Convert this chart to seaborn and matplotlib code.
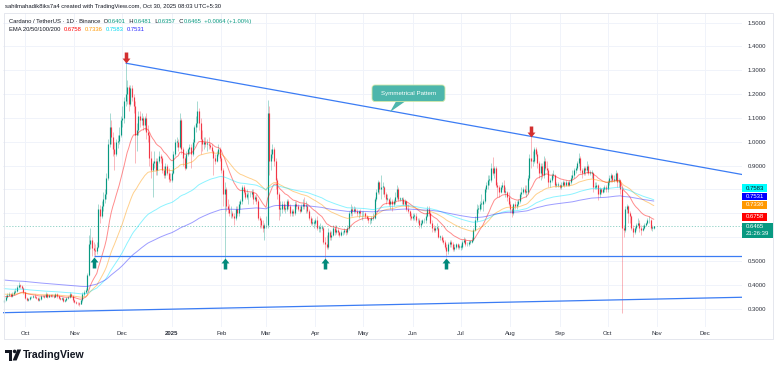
import matplotlib
matplotlib.use("Agg")
import matplotlib.pyplot as plt
import matplotlib.dates as mdates
from matplotlib.path import Path
from matplotlib.patches import Rectangle, FancyBboxPatch, Polygon, Circle
import numpy as np
import pandas as pd
import seaborn as sns

# ---- ADA/USDT daily candles (Sep 18 2024 .. Oct 30 2025) ----
start_date = "2024-09-18"
first_open = 0.330

close = [
    # Sep 2024
    0.335, 0.350, 0.358, 0.362, 0.355, 0.362, 0.372, 0.375, 0.390, 0.398, 0.395, 0.388, 0.368,
    # Oct 2024
    0.345, 0.338, 0.340, 0.348, 0.350, 0.352, 0.348, 0.345, 0.338, 0.342, 0.352, 0.354, 0.350, 0.362, 0.350, 0.358,
    0.352, 0.354, 0.350, 0.360, 0.352, 0.346, 0.340, 0.346, 0.332, 0.338, 0.345, 0.350, 0.362, 0.352, 0.335,
    # Nov 2024
    0.330, 0.325, 0.322, 0.320, 0.335, 0.362, 0.372, 0.380, 0.440, 0.570, 0.590, 0.555, 0.545, 0.540, 0.560,
    0.720, 0.690, 0.730, 0.760, 0.780, 0.850, 0.990, 1.060, 1.020, 0.970, 0.950, 1.000, 1.005, 1.030, 1.090,
    # Dec 2024
    1.100, 1.170, 1.200, 1.230, 1.160, 1.225, 1.190, 1.150, 1.030, 1.050, 1.110, 1.090, 1.100, 1.070, 1.100, 1.040,
    1.030, 0.930, 0.880, 0.910, 0.920, 0.880, 0.920, 0.940, 0.930, 0.880, 0.860, 0.900, 0.870, 0.845, 0.840,
    # Jan 2025
    0.870, 0.950, 1.000, 1.000, 0.980, 1.090, 0.970, 0.930, 0.890, 0.950, 0.970, 0.980, 0.950, 1.000, 1.060, 1.080,
    1.130, 1.080, 1.010, 0.990, 1.000, 0.990, 0.990, 0.985, 0.980, 0.960, 0.930, 0.920, 0.950, 0.970, 0.930,
    # Feb 2025
    0.880, 0.780, 0.800, 0.730, 0.720, 0.700, 0.700, 0.690, 0.680, 0.720, 0.700, 0.740, 0.750, 0.810,
    0.790, 0.770, 0.780, 0.780, 0.780, 0.790, 0.760, 0.770, 0.750, 0.680, 0.670, 0.650, 0.640, 0.650,
    # Mar 2025
    0.650, 1.120, 0.920, 0.950, 0.970, 0.920, 0.840, 0.780, 0.720, 0.720, 0.740, 0.720, 0.720, 0.750, 0.730, 0.700,
    0.710, 0.700, 0.740, 0.730, 0.720, 0.710, 0.730, 0.740, 0.730, 0.730, 0.710, 0.680, 0.660, 0.660, 0.660,
    # Apr 2025
    0.670, 0.640, 0.640, 0.640, 0.640, 0.580, 0.570, 0.560, 0.620, 0.600, 0.610, 0.640, 0.620, 0.630, 0.620,
    0.610, 0.620, 0.620, 0.630, 0.620, 0.640, 0.700, 0.720, 0.710, 0.720, 0.710, 0.700, 0.710, 0.700, 0.700,
    # May 2025
    0.700, 0.690, 0.680, 0.670, 0.670, 0.680, 0.680, 0.760, 0.790, 0.830, 0.800, 0.810, 0.810, 0.780, 0.760, 0.760,
    0.740, 0.750, 0.740, 0.750, 0.770, 0.800, 0.760, 0.760, 0.760, 0.740, 0.750, 0.720, 0.710, 0.690, 0.680,
    # Jun 2025
    0.690, 0.690, 0.670, 0.670, 0.650, 0.660, 0.670, 0.670, 0.690, 0.720, 0.700, 0.660, 0.640, 0.630, 0.640,
    0.640, 0.600, 0.600, 0.590, 0.580, 0.560, 0.540, 0.570, 0.580, 0.570, 0.550, 0.560, 0.570, 0.560, 0.560,
    # Jul 2025
    0.560, 0.580, 0.590, 0.570, 0.570, 0.580, 0.580, 0.590, 0.630, 0.670, 0.720, 0.720, 0.740, 0.740, 0.750, 0.800,
    0.820, 0.840, 0.840, 0.890, 0.870, 0.890, 0.820, 0.810, 0.790, 0.810, 0.820, 0.790, 0.790, 0.770, 0.740,
    # Aug 2025
    0.720, 0.700, 0.740, 0.730, 0.740, 0.750, 0.780, 0.790, 0.800, 0.790, 0.790, 0.850, 0.930, 0.920, 0.920, 0.970,
    0.950, 0.910, 0.870, 0.900, 0.860, 0.920, 0.890, 0.880, 0.830, 0.840, 0.860, 0.860, 0.820, 0.820, 0.820,
    # Sep 2025
    0.810, 0.820, 0.830, 0.820, 0.830, 0.820, 0.830, 0.850, 0.860, 0.880, 0.890, 0.910, 0.930, 0.880, 0.870,
    0.890, 0.880, 0.900, 0.870, 0.870, 0.870, 0.810, 0.810, 0.820, 0.780, 0.800, 0.790, 0.800, 0.810, 0.800,
    # Oct 2025
    0.830, 0.850, 0.860, 0.840, 0.840, 0.870, 0.830, 0.840, 0.800, 0.640, 0.630, 0.720, 0.730, 0.700, 0.690,
    0.640, 0.620, 0.640, 0.650, 0.660, 0.640, 0.630, 0.640, 0.650, 0.660, 0.670, 0.670, 0.640, 0.6401, 0.6465,
]

high = [
    0.342, 0.356, 0.366, 0.368, 0.366, 0.372, 0.378, 0.385, 0.398, 0.412, 0.404, 0.400, 0.392,
    0.372, 0.350, 0.346, 0.352, 0.355, 0.357, 0.360, 0.353, 0.350, 0.347, 0.356, 0.358, 0.358, 0.368, 0.366, 0.363,
    0.362, 0.360, 0.357, 0.364, 0.364, 0.356, 0.350, 0.350, 0.350, 0.342, 0.348, 0.355, 0.368, 0.366, 0.356,
    0.340, 0.334, 0.330, 0.328, 0.340, 0.368, 0.380, 0.388, 0.450, 0.610, 0.640, 0.600, 0.580, 0.570, 0.580,
    0.740, 0.735, 0.750, 0.790, 0.800, 0.870, 1.010, 1.120, 1.090, 1.040, 1.000, 1.010, 1.030, 1.060, 1.110,
    1.150, 1.190, 1.330, 1.260, 1.240, 1.240, 1.240, 1.200, 1.170, 1.080, 1.130, 1.130, 1.120, 1.110, 1.110, 1.120,
    1.070, 1.040, 0.960, 0.920, 0.960, 0.930, 0.930, 0.960, 0.950, 0.940, 0.900, 0.910, 0.905, 0.890, 0.870,
    0.880, 0.960, 1.010, 1.020, 1.010, 1.120, 1.100, 0.980, 0.940, 0.960, 0.975, 0.990, 0.990, 1.010, 1.070, 1.110,
    1.170, 1.140, 1.100, 1.050, 1.020, 1.020, 1.010, 1.020, 0.995, 0.990, 0.965, 0.950, 0.960, 0.990, 0.980,
    0.940, 0.890, 0.830, 0.810, 0.760, 0.740, 0.730, 0.710, 0.700, 0.730, 0.730, 0.750, 0.760, 0.820,
    0.820, 0.800, 0.800, 0.790, 0.790, 0.800, 0.800, 0.775, 0.780, 0.760, 0.690, 0.680, 0.670, 0.660,
    0.690, 1.175, 1.150, 0.970, 0.990, 0.980, 0.930, 0.850, 0.790, 0.750, 0.750, 0.750, 0.740, 0.760, 0.760, 0.740,
    0.720, 0.720, 0.750, 0.750, 0.740, 0.730, 0.740, 0.760, 0.770, 0.750, 0.740, 0.720, 0.690, 0.680, 0.670,
    0.680, 0.690, 0.650, 0.660, 0.650, 0.645, 0.600, 0.610, 0.640, 0.630, 0.625, 0.650, 0.650, 0.650, 0.640,
    0.625, 0.630, 0.625, 0.640, 0.635, 0.650, 0.710, 0.740, 0.730, 0.730, 0.725, 0.720, 0.715, 0.720, 0.710,
    0.710, 0.705, 0.695, 0.690, 0.680, 0.690, 0.700, 0.770, 0.800, 0.840, 0.835, 0.860, 0.830, 0.815, 0.790, 0.780,
    0.765, 0.770, 0.760, 0.760, 0.790, 0.820, 0.810, 0.770, 0.770, 0.770, 0.760, 0.755, 0.740, 0.715, 0.700,
    0.700, 0.700, 0.700, 0.680, 0.680, 0.670, 0.675, 0.680, 0.700, 0.730, 0.730, 0.710, 0.670, 0.650, 0.645,
    0.660, 0.645, 0.610, 0.610, 0.600, 0.590, 0.570, 0.580, 0.590, 0.590, 0.580, 0.570, 0.575, 0.575, 0.570,
    0.570, 0.590, 0.600, 0.595, 0.580, 0.590, 0.590, 0.600, 0.640, 0.690, 0.740, 0.735, 0.750, 0.780, 0.760, 0.810,
    0.830, 0.860, 0.860, 0.910, 0.935, 0.900, 0.900, 0.830, 0.820, 0.820, 0.830, 0.840, 0.810, 0.795, 0.790,
    0.750, 0.730, 0.745, 0.750, 0.750, 0.760, 0.790, 0.810, 0.810, 0.820, 0.820, 0.860, 0.950, 1.020, 0.960, 0.980,
    0.980, 0.960, 0.920, 0.910, 0.910, 0.940, 0.930, 0.920, 0.890, 0.850, 0.870, 0.880, 0.865, 0.830, 0.830,
    0.825, 0.830, 0.840, 0.835, 0.840, 0.835, 0.840, 0.860, 0.880, 0.890, 0.900, 0.920, 0.955, 0.940, 0.890,
    0.900, 0.900, 0.920, 0.905, 0.880, 0.880, 0.875, 0.830, 0.830, 0.825, 0.810, 0.805, 0.810, 0.820, 0.820,
    0.840, 0.860, 0.870, 0.865, 0.860, 0.880, 0.875, 0.850, 0.845, 0.810, 0.650, 0.730, 0.740, 0.735, 0.710,
    0.695, 0.650, 0.645, 0.660, 0.680, 0.670, 0.650, 0.650, 0.660, 0.665, 0.680, 0.690, 0.675, 0.650, 0.6481,
]

low = [
    0.325, 0.332, 0.345, 0.352, 0.348, 0.350, 0.356, 0.365, 0.370, 0.385, 0.388, 0.382, 0.362,
    0.340, 0.332, 0.333, 0.336, 0.344, 0.346, 0.344, 0.340, 0.334, 0.333, 0.338, 0.348, 0.345, 0.347, 0.345, 0.347,
    0.348, 0.349, 0.346, 0.347, 0.346, 0.340, 0.335, 0.336, 0.326, 0.328, 0.334, 0.340, 0.346, 0.348, 0.330,
    0.325, 0.320, 0.315, 0.312, 0.318, 0.330, 0.355, 0.366, 0.376, 0.435, 0.550, 0.520, 0.525, 0.518, 0.530,
    0.555, 0.660, 0.680, 0.710, 0.745, 0.760, 0.840, 0.980, 0.990, 0.940, 0.880, 0.940, 0.975, 0.990, 1.020,
    1.060, 1.080, 1.150, 1.160, 1.130, 1.150, 1.170, 1.120, 0.910, 0.960, 1.030, 1.060, 1.070, 1.050, 1.050, 1.010,
    1.000, 0.900, 0.850, 0.770, 0.890, 0.860, 0.860, 0.910, 0.910, 0.870, 0.850, 0.850, 0.860, 0.830, 0.830,
    0.830, 0.865, 0.940, 0.980, 0.960, 0.975, 0.950, 0.900, 0.880, 0.885, 0.940, 0.950, 0.890, 0.940, 0.980, 1.040,
    1.060, 1.050, 0.950, 0.960, 0.970, 0.980, 0.960, 0.970, 0.970, 0.955, 0.860, 0.905, 0.915, 0.940, 0.920,
    0.870, 0.730, 0.510, 0.710, 0.700, 0.690, 0.680, 0.680, 0.650, 0.670, 0.690, 0.690, 0.720, 0.740,
    0.780, 0.760, 0.760, 0.740, 0.770, 0.770, 0.740, 0.750, 0.740, 0.670, 0.640, 0.640, 0.620, 0.590,
    0.640, 0.640, 0.860, 0.880, 0.930, 0.900, 0.800, 0.760, 0.670, 0.690, 0.700, 0.710, 0.700, 0.710, 0.720, 0.690,
    0.690, 0.690, 0.695, 0.720, 0.710, 0.700, 0.705, 0.720, 0.720, 0.700, 0.700, 0.670, 0.650, 0.650, 0.640,
    0.650, 0.630, 0.620, 0.620, 0.630, 0.570, 0.510, 0.550, 0.550, 0.590, 0.590, 0.605, 0.610, 0.615, 0.610,
    0.600, 0.605, 0.610, 0.615, 0.610, 0.615, 0.630, 0.690, 0.690, 0.700, 0.700, 0.690, 0.680, 0.690, 0.670,
    0.690, 0.680, 0.670, 0.660, 0.655, 0.660, 0.670, 0.675, 0.750, 0.780, 0.780, 0.760, 0.780, 0.770, 0.740, 0.750,
    0.730, 0.720, 0.710, 0.730, 0.740, 0.760, 0.750, 0.750, 0.740, 0.735, 0.730, 0.710, 0.700, 0.670, 0.670,
    0.670, 0.670, 0.665, 0.660, 0.640, 0.640, 0.655, 0.660, 0.660, 0.685, 0.690, 0.655, 0.620, 0.620, 0.620,
    0.630, 0.595, 0.590, 0.580, 0.570, 0.550, 0.515, 0.530, 0.560, 0.560, 0.540, 0.540, 0.550, 0.550, 0.550,
    0.545, 0.550, 0.575, 0.565, 0.565, 0.565, 0.570, 0.575, 0.585, 0.625, 0.665, 0.700, 0.710, 0.720, 0.710, 0.745,
    0.790, 0.800, 0.820, 0.830, 0.860, 0.850, 0.810, 0.770, 0.770, 0.785, 0.800, 0.785, 0.770, 0.750, 0.730,
    0.700, 0.685, 0.695, 0.720, 0.720, 0.730, 0.745, 0.770, 0.780, 0.780, 0.770, 0.780, 0.840, 0.890, 0.900, 0.910,
    0.940, 0.890, 0.850, 0.840, 0.850, 0.850, 0.880, 0.870, 0.810, 0.810, 0.830, 0.850, 0.810, 0.810, 0.810,
    0.800, 0.800, 0.815, 0.810, 0.815, 0.815, 0.815, 0.825, 0.840, 0.850, 0.870, 0.880, 0.900, 0.870, 0.850,
    0.860, 0.860, 0.870, 0.860, 0.860, 0.850, 0.790, 0.800, 0.800, 0.755, 0.770, 0.780, 0.785, 0.790, 0.790,
    0.790, 0.820, 0.830, 0.830, 0.830, 0.835, 0.810, 0.810, 0.780, 0.280, 0.600, 0.620, 0.700, 0.660, 0.660,
    0.630, 0.600, 0.615, 0.630, 0.645, 0.620, 0.610, 0.625, 0.635, 0.645, 0.655, 0.660, 0.630, 0.625, 0.6357,
]

# EMA 20/50/100/200: level at the left edge of the chart and the values printed in the legend
ema_lengths = [20, 50, 100, 200]
ema_start = [0.352, 0.362, 0.385, 0.421]
ema_last = [0.6758, 0.7336, 0.7583, 0.7531]

month_starts = pd.date_range("2024-10-01", "2025-12-01", freq="MS")
month_labels = ["Oct", "Nov", "Dec", "2025", "Feb", "Mar", "Apr", "May", "Jun",
                "Jul", "Aug", "Sep", "Oct", "Nov", "Dec"]
price_ticks = [0.3, 0.4, 0.5, 0.6, 0.7, 0.8, 0.9, 1.0, 1.1, 1.2, 1.3, 1.4, 1.5]
hidden_ticks = [0.6, 0.7, 0.8]   # covered by the price-scale labels

# drawn trendlines (date, price)
upper_dates, upper_prices = ["2024-12-03", "2025-12-25"], [1.33, 0.862]
support_dates, support_prices = ["2024-11-13", "2025-12-25"], [0.522, 0.522]
lower_dates, lower_prices = ["2024-09-16", "2025-12-25"], [0.283, 0.348]

# arrow marks
top_dates, top_prices = ["2024-12-03", "2025-08-14"], [1.33, 1.02]
bottom_dates = ["2024-11-13", "2025-02-03", "2025-04-07", "2025-06-22"]
bottom_prices = [0.516, 0.512, 0.512, 0.512]

UP, DOWN = "#089981", "#f23645"
EMA_COLORS = ["#ff0000", "#ff9800", "#00e5ff", "#2626ff"]


def ema(values, length, start):
    alpha = 2.0 / (length + 1)
    out, prev = [], start
    for v in values:
        prev = prev + alpha * (v - prev)
        out.append(prev)
    return out


assert len(close) == len(high) == len(low)
df = pd.DataFrame({
    "date": pd.date_range(start_date, periods=len(close), freq="D"),
    "open": [first_open] + close[:-1],
    "high": high, "low": low, "close": close,
})
df["x"] = mdates.date2num(df["date"])
df["high"] = np.maximum(df["high"], df[["open", "close"]].max(axis=1))
df["low"] = np.minimum(df["low"], df[["open", "close"]].min(axis=1))
for n, s in zip(ema_lengths, ema_start):
    df[f"ema{n}"] = ema(df["close"].tolist(), n, s)

sns.set_style("white")
plt.rcParams["font.family"] = ["Liberation Sans", "DejaVu Sans"]

W, H = 780, 370
fig = plt.figure(figsize=(7.8, 3.7), dpi=100)
fig.patch.set_facecolor("white")

# plot area in pixels: x 3..742, y 13..327
ax = fig.add_axes([3 / W, 1 - 327 / H, 739 / W, 314 / H])
oct1 = mdates.date2num(pd.Timestamp("2024-10-01"))
px_day = 1.596
ax.set_xlim(oct1 - 22 / px_day, oct1 + 717 / px_day)
px_unit = 238.4
ax.set_ylim(1.5 - (327 - 22.6) / px_unit, 1.5 + (22.6 - 13) / px_unit)

# grid + ticks
ax.set_xticks(mdates.date2num(month_starts))
ax.set_xticklabels(month_labels)
ax.set_yticks(price_ticks)
ax.set_yticklabels(["" if p in hidden_ticks else f"{p:.4f}" for p in price_ticks])
ax.yaxis.tick_right()
ax.grid(True, color="#f0f3fa", lw=0.7)
ax.tick_params(axis="both", length=0, labelsize=4.3, labelcolor="#2a2e39")
ax.tick_params(axis="x", pad=3)
ax.tick_params(axis="y", pad=4)
ax.get_xticklabels()[3].set_fontweight("bold")
for sp in ax.spines.values():
    sp.set_visible(False)

# EMAs
for n, col in zip(ema_lengths, EMA_COLORS):
    sns.lineplot(data=df, x="x", y=f"ema{n}", ax=ax, color=col, lw=0.7, alpha=0.45, zorder=5)
ax.set_xlabel("")
ax.set_ylabel("")

# candles
up = df["close"] >= df["open"]
for mask, col in [(up, UP), (~up, DOWN)]:
    d = df[mask]
    ax.vlines(d["x"], d["low"], d["high"], color=col, lw=0.45, alpha=0.55, zorder=3)
    bot = d[["open", "close"]].min(axis=1)
    top = np.maximum(d[["open", "close"]].max(axis=1), bot + 0.003)
    ax.vlines(d["x"], bot, top, color=col, lw=0.85, zorder=4)

# last price line
ax.axhline(close[-1], color=UP, lw=0.6, ls=(0, (1.5, 2)), alpha=0.5, zorder=2)

# trendlines
for dts, prs in [(upper_dates, upper_prices), (support_dates, support_prices), (lower_dates, lower_prices)]:
    ax.plot(mdates.date2num(pd.to_datetime(dts)), prs, color="#3b7cf4", lw=0.9, zorder=6,
            solid_capstyle="butt")

# arrows
down_arrow = Path([(0, 0), (-0.36, 0.45), (-0.16, 0.45), (-0.16, 1), (0.16, 1), (0.16, 0.45), (0.36, 0.45), (0, 0)],
                  closed=True)
up_arrow = Path([(0, 0), (-0.36, -0.45), (-0.16, -0.45), (-0.16, -1), (0.16, -1), (0.16, -0.45), (0.36, -0.45), (0, 0)],
                closed=True)
ax.scatter(mdates.date2num(pd.to_datetime(top_dates)), top_prices, marker=down_arrow, s=250,
           color="#d32f2f", lw=0, zorder=8)
ax.scatter(mdates.date2num(pd.to_datetime(bottom_dates)), bottom_prices, marker=up_arrow, s=250,
           color="#00897b", lw=0, zorder=8)

# ---- overlay in pixel coordinates ----
ov = fig.add_axes([0, 0, 1, 1], zorder=10)
ov.set_xlim(0, W)
ov.set_ylim(H, 0)
ov.axis("off")
ov.patch.set_alpha(0)

ov.add_patch(Rectangle((4, 13), 769, 326, fill=False, ec="#e0e3eb", lw=0.6))

# callout
ov.add_patch(Polygon([(396.5, 100.5), (406.5, 100.5), (390, 112)], closed=True, fc="#4db6ac", ec="none"))
ov.add_patch(FancyBboxPatch((372, 85), 73, 16.5, boxstyle="round,pad=0,rounding_size=3",
                            fc="#4db6ac", ec="#d4e9a8", lw=0.6))
ov.text(408.5, 93.4, "Symmetrical Pattern", color="white", fontsize=4.4, ha="center", va="center")

# price-scale labels
labels = [(184, 192, "#00ffff", "#131722", f"{ema_last[2]:.4f}"),
          (192.5, 200.3, "#0000ff", "white", f"{ema_last[3]:.4f}"),
          (200.8, 208.8, "#ff9800", "white", f"{ema_last[1]:.4f}"),
          (213, 221, "#ff0000", "white", f"{ema_last[0]:.4f}")]
for y0, y1, fc, tc, txt in labels:
    ov.add_patch(Rectangle((742, y0), 25, y1 - y0, fc=fc, ec="none"))
    ov.text(745.5, (y0 + y1) / 2, txt, color=tc, fontsize=4.3, va="center", ha="left")
ov.add_patch(Rectangle((742, 222.5), 31, 15, fc=UP, ec="none"))
ov.text(745.5, 226.3, f"{close[-1]:.4f}", color="white", fontsize=4.3, va="center")
ov.text(745.5, 233.3, "21:26:39", color="white", fontsize=4.3, va="center")

# header
fig.canvas.draw()
rend = fig.canvas.get_renderer()


def chain(x, y, parts, size=4.2):
    for txt, col in parts:
        t = ov.text(x, y, txt, color=col, fontsize=size, va="center", ha="left")
        bb = t.get_window_extent(renderer=rend)
        x += bb.width * W / fig.bbox.width


DARK = "#131722"
ov.text(5, 6.8, "sahilmahadik8iks7a4 created with TradingView.com, Oct 30, 2025 08:03 UTC+5:30",
        color=DARK, fontsize=4.2, va="center")
chain(9, 21.6, [("Cardano / TetherUS · 1D · Binance  O", DARK), (f"{df['open'].iloc[-1]:.4f}", UP),
                ("  H", DARK), (f"{high[-1]:.4f}", UP), ("  L", DARK), (f"{low[-1]:.4f}", UP),
                ("  C", DARK), (f"{close[-1]:.4f}", UP), ("  +0.0064 (+1.00%)", UP)])
chain(9, 29.4, [("EMA 20/50/100/200  ", DARK), (f"{ema_last[0]:.4f}", EMA_COLORS[0]), ("  ", DARK),
                (f"{ema_last[1]:.4f}", EMA_COLORS[1]), ("  ", DARK), (f"{ema_last[2]:.4f}", "#00d8f0"),
                ("  ", DARK), (f"{ema_last[3]:.4f}", EMA_COLORS[3])])

# TradingView logo
ov.add_patch(Polygon([(5, 349.5), (12, 349.5), (12, 360.5), (8.5, 360.5), (8.5, 353), (5, 353)],
                     closed=True, fc=DARK, ec="none"))
ov.add_patch(Circle((14.6, 351.4), 1.8, fc=DARK, ec="none"))
ov.add_patch(Polygon([(17.2, 349.5), (21.2, 349.5), (16.6, 360.5), (12.6, 360.5)], closed=True, fc=DARK, ec="none"))
ov.text(22.5, 355.3, "TradingView", color=DARK, fontsize=7.6, fontweight="bold", va="center")

fig.savefig("out.png", dpi=100, facecolor="white")
